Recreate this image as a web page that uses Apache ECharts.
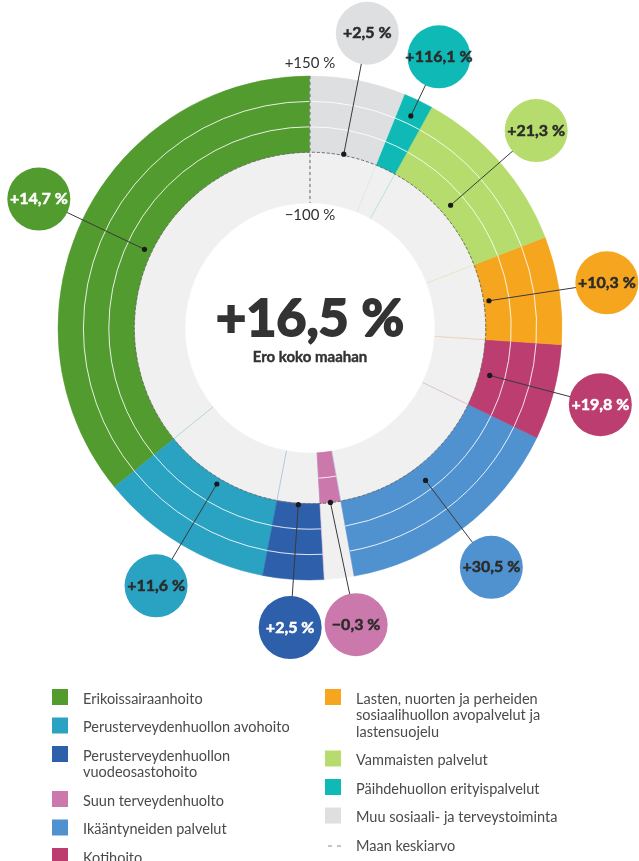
<!DOCTYPE html>
<html>
<head>
<meta charset="utf-8">
<title>Ero koko maahan</title>
<script src="https://cdn.jsdelivr.net/npm/echarts@6/dist/echarts.min.js"></script>
<style>
  html, body { margin: 0; padding: 0; background: #fff; }
  #chart { width: 639px; height: 861px; }
</style>
</head>
<body>
<div id="chart"></div>
<script>
// palvelut, järjestys vastapäivään ylhäältä (sama kuin selitteessä)
const categories = [
  'Erikoissairaanhoito',
  'Perusterveydenhuollon avohoito',
  'Perusterveydenhuollon\nvuodeosastohoito',
  'Suun terveydenhuolto',
  'Ikääntyneiden palvelut',
  'Kotihoito',
  'Lasten, nuorten ja perheiden\nsosiaalihuollon avopalvelut ja\nlastensuojelu',
  'Vammaisten palvelut',
  'Päihdehuollon erityispalvelut',
  'Muu sosiaali- ja terveystoiminta'
];
// osuus kustannuksista (sektorin leveys)
const shares = [35.8, 11.1, 3.9, 1.9, 15.0, 6.1, 6.9, 11.1, 1.9, 6.1];
// ero koko maahan, %
const diffs = [14.7, 11.6, 2.5, -0.3, 30.5, 19.8, 10.3, 21.3, 116.1, 2.5];
const colors = ['#529b2f', '#2aa2c1', '#2e5faa', '#cb78ac', '#4f92cf',
                '#bc3d6f', '#f6a61e', '#b6dc6d', '#0fbab6', '#dddfe1'];
const labelTextColors = ['#fff', '#2b2b2b', '#fff', '#2b2b2b', '#2b2b2b',
                         '#fff', '#2b2b2b', '#2b2b2b', '#2b2b2b', '#2b2b2b'];
const totalDiff = 16.5;
const radiusTicks = [-100, 150];
const gridSteps = [-50, 50, 100];
const averageName = 'Maan keskiarvo';

const LABEL_R = 245;          // pallojen etäisyys akselin yksiköissä
const labelNudge = [0, 0, 0, 0.6, 0, 0, 0, 0, 0, 0];
const FONT = 'Lato, "Noto Sans", sans-serif';

const total = shares.reduce((a, b) => a + b, 0);
let acc = 0;
const sectorData = shares.map((s, i) => {
  const row = [acc, acc + s, diffs[i], i];
  acc += s;
  return row;
});

function fmt(v) {
  return (v < 0 ? '\u2212' : '+') + Math.abs(v).toFixed(1).replace('.', ',') + ' %';
}

function geom(params, api) {
  const cs = params.coordSys;
  const cx = cs.cx, cy = cs.cy;
  const rad = (v) => {
    const p = api.coord([v, 0]);
    return Math.hypot(p[0] - cx, p[1] - cy);
  };
  const ang = (a) => {
    const p = api.coord([radiusTicks[1], a]);
    return Math.atan2(p[1] - cy, p[0] - cx);
  };
  return { cx, cy, rad, ang };
}

function renderSector(params, api) {
  const g = geom(params, api);
  const i = api.value(3);
  const d = api.value(2);
  const a0 = g.ang(api.value(0));
  let a1 = g.ang(api.value(1));
  while (a1 >= a0) a1 -= Math.PI * 2;
  const rMin = g.rad(radiusTicks[0]), rZero = g.rad(0), rMax = g.rad(radiusTicks[1]);
  const pos = d >= 0;
  const band = pos ? [rZero, rMax] : [rMin, rZero];
  const grey = pos ? [rMin, rZero] : [rZero, rMax];
  const children = [
    {
      type: 'sector',
      shape: { cx: g.cx, cy: g.cy, r0: grey[0], r: grey[1], startAngle: a0, endAngle: a1, clockwise: false },
      style: { fill: '#f0f0f0', stroke: '#f0f0f0', lineWidth: 0.5 }
    },
    {
      type: 'sector',
      shape: { cx: g.cx, cy: g.cy, r0: band[0], r: band[1], startAngle: a0, endAngle: a1, clockwise: false },
      style: { fill: colors[i], stroke: colors[i], lineWidth: 0.5 }
    }
  ];
  // haaleat rajaviivat harmaalla alueella
  [a0, a1].forEach((a) => {
    children.push({
      type: 'line',
      shape: {
        x1: g.cx + grey[0] * Math.cos(a), y1: g.cy + grey[0] * Math.sin(a),
        x2: g.cx + grey[1] * Math.cos(a), y2: g.cy + grey[1] * Math.sin(a)
      },
      style: { stroke: colors[i], lineWidth: 0.7, opacity: 0.35 }
    });
  });
  gridSteps.filter((s) => (pos ? s > 0 : s < 0)).forEach((s) => {
    children.push({
      type: 'arc',
      shape: { cx: g.cx, cy: g.cy, r: g.rad(s), startAngle: a0, endAngle: a1, clockwise: false },
      style: { stroke: '#ffffff', lineWidth: 1, fill: null, opacity: 0.85 }
    });
  });
  return { type: 'group', children };
}

function renderAxis(params, api) {
  const g = geom(params, api);
  const pTop = api.coord([radiusTicks[1], 0]);
  const pBot = api.coord([radiusTicks[0], 0]);
  return {
    type: 'group',
    children: [
      {
        type: 'circle',
        shape: { cx: g.cx, cy: g.cy, r: g.rad(0) },
        style: { fill: null, stroke: '#6b6b6b', lineWidth: 1, lineDash: [3, 2] }
      },
      {
        type: 'line',
        shape: { x1: pTop[0], y1: pTop[1], x2: pBot[0], y2: pBot[1] },
        style: { stroke: '#6b6b6b', lineWidth: 1, lineDash: [3, 3] }
      },
      {
        type: 'text', x: pTop[0], y: pTop[1] - 13,
        style: { text: fmt(radiusTicks[1]).replace(',0', ''), align: 'center', verticalAlign: 'middle',
                 fill: '#333', fontSize: 15, fontFamily: FONT }
      },
      {
        type: 'text', x: pBot[0], y: pBot[1] + 12,
        style: { text: fmt(radiusTicks[0]).replace(',0', ''), align: 'center', verticalAlign: 'middle',
                 fill: '#333', fontSize: 15, fontFamily: FONT }
      }
    ]
  };
}

function renderLabel(params, api) {
  const i = api.value(3);
  const d = api.value(2);
  const mid = (api.value(0) + api.value(1)) / 2;
  const dot = api.coord([d, mid]);
  const lab = api.coord([LABEL_R, mid + labelNudge[i]]);
  return {
    type: 'group',
    children: [
      {
        type: 'line',
        shape: { x1: dot[0], y1: dot[1], x2: lab[0], y2: lab[1] },
        style: { stroke: '#3a3a3a', lineWidth: 1 }
      },
      { type: 'circle', shape: { cx: dot[0], cy: dot[1], r: 2.6 }, style: { fill: '#1a1a1a' } },
      { type: 'circle', shape: { cx: lab[0], cy: lab[1], r: 31.5 }, style: { fill: colors[i] } },
      {
        type: 'text', x: lab[0], y: lab[1],
        style: { text: fmt(d), align: 'center', verticalAlign: 'middle', fill: labelTextColors[i],
                 stroke: labelTextColors[i], lineWidth: 0.5,
                 fontSize: 16, fontWeight: 'bold', fontFamily: FONT }
      }
    ]
  };
}

// selite
const legendItems = [];
function addLegendColumn(indices, x, yStart, withAverage) {
  let y = yStart;
  indices.forEach((i) => {
    const lines = categories[i].split('\n').length;
    legendItems.push({
      type: 'rect', shape: { x: x, y: y - 10, width: 16, height: 16 },
      style: { fill: colors[i] }
    });
    legendItems.push({
      type: 'text', x: x + 31, y: y - 8.25,
      style: { text: categories[i], fill: '#4a4a4a', fontSize: 14.5, lineHeight: 16.5,
               fontFamily: FONT, verticalAlign: 'top' }
    });
    y += 28.5 + 16.5 * (lines - 1);
  });
  if (withAverage) {
    legendItems.push({
      type: 'line', shape: { x1: x + 3, y1: y, x2: x + 17, y2: y },
      style: { stroke: '#8a8a8a', lineWidth: 1, lineDash: [4, 5] }
    });
    legendItems.push({
      type: 'text', x: x + 31, y: y - 8.25,
      style: { text: averageName, fill: '#4a4a4a', fontSize: 14.5, lineHeight: 16.5,
               fontFamily: FONT, verticalAlign: 'top' }
    });
  }
}
addLegendColumn([0, 1, 2, 3, 4, 5], 52, 699, false);
addLegendColumn([6, 7, 8, 9], 325, 699, true);

const chart = echarts.init(document.getElementById('chart'));
const option = {
  animation: false,
  backgroundColor: '#fff',
  polar: { center: [310, 328], radius: [125, 252] },
  angleAxis: {
    type: 'value', min: 0, max: total, startAngle: 90, clockwise: false,
    show: false
  },
  radiusAxis: { type: 'value', min: radiusTicks[0], max: radiusTicks[1], show: false },
  series: [
    { type: 'custom', coordinateSystem: 'polar', silent: true, data: sectorData, renderItem: renderSector, z: 1 },
    { type: 'custom', coordinateSystem: 'polar', silent: true, data: [[0, 0, 0, 0]], renderItem: renderAxis, z: 2 },
    { type: 'custom', coordinateSystem: 'polar', silent: true, data: sectorData, renderItem: renderLabel, z: 3 }
  ],
  graphic: [
    {
      type: 'text', x: 310, y: 319,
      style: { text: fmt(totalDiff), align: 'center', verticalAlign: 'middle', fill: '#333',
               stroke: '#333', lineWidth: 2,
               fontSize: 52, fontWeight: 'bold', fontFamily: FONT }
    },
    {
      type: 'text', x: 310, y: 357,
      style: { text: 'Ero koko maahan', align: 'center', verticalAlign: 'middle', fill: '#333',
               stroke: '#333', lineWidth: 0.4,
               fontSize: 15, fontWeight: 'bold', fontFamily: FONT }
    }
  ].concat(legendItems)
};
chart.setOption(option);
</script>
</body>
</html>
